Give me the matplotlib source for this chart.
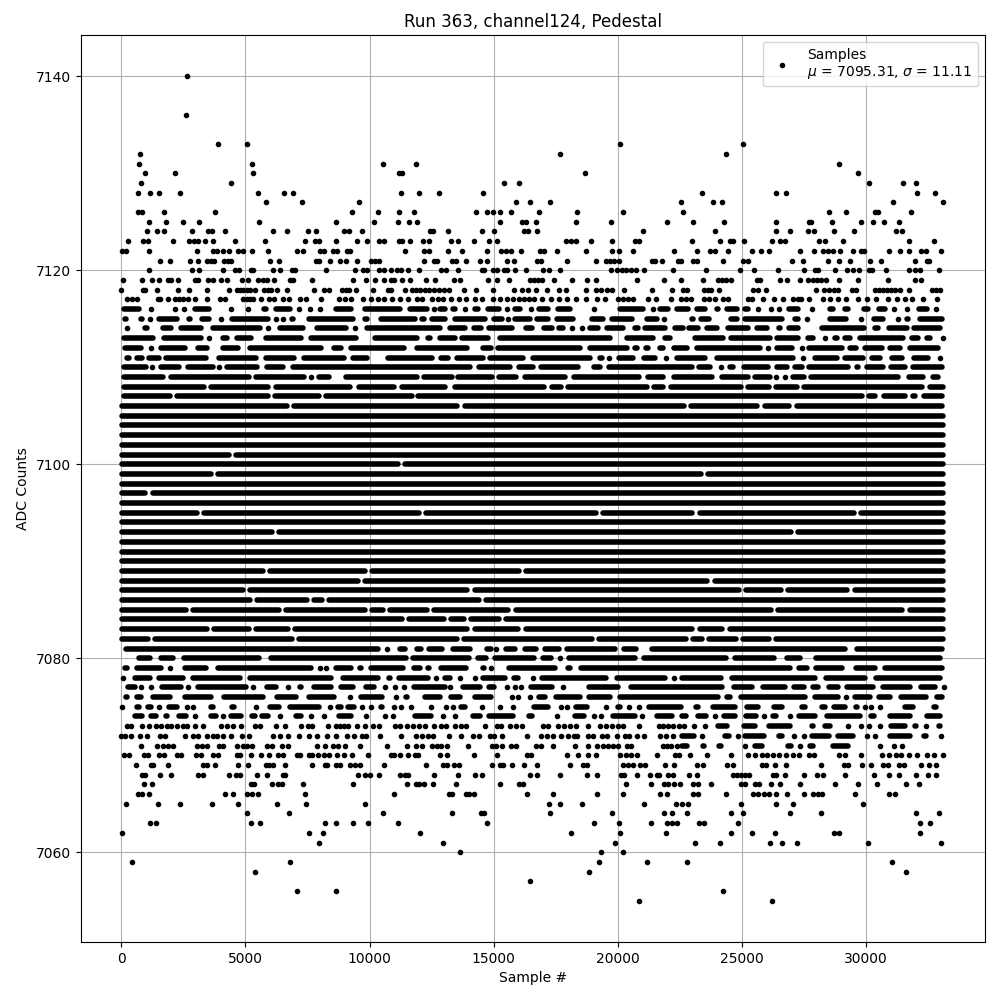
# -*- coding: utf-8 -*-
"""Run 363, channel 124 pedestal scatter, values read off the picture.

About 33k samples overlap too much to read one by one. The outer levels are
read as single samples. The middle levels are read as runs of touching dots,
each (first, last) being the visible edges of the run, and the full levels as
unbroken rows with the sample numbers of their visible gaps.
"""

import matplotlib
matplotlib.use("Agg")
import matplotlib.pyplot as plt

TITLE = "Run 363, channel124, Pedestal"
MU = 7095.31
SIGMA = 11.11
X_TICKS = [0, 5000, 10000, 15000, 20000, 25000, 30000]
Y_TICKS = [7060, 7080, 7100, 7120, 7140]

# single samples, upper tail
upper_levels = [7140, 7136, 7133, 7132, 7131, 7130, 7129, 7128, 7127, 7126, 7125, 7124,
                7123, 7122, 7121, 7120, 7119, 7118, 7117]
upper_samples = [
    [2659],
    [2619],
    [3908, 5077, 20108, 25041],
    [765, 17688, 24355],
    [725, 5278, 10552, 11882, 28911],
    [967, 2176, 5318, 11197, 11318, 18696, 29677],
    [806, 4432, 15430, 16035, 30121, 31492, 32016],
    [685, 1168, 1531, 2377, 5520, 6567, 6930, 11277, 12003, 12810, 14584, 23387, 26371,
     26774, 32056, 32782],
    [5842, 7292, 9589, 15914, 16479, 17285, 22554, 23831, 24194, 31089, 33105],
    [685, 846, 1732, 3787, 9307, 10354, 11197, 11802, 14301, 14745, 14987, 15269, 15713,
     16842, 18374, 20228, 22621, 28508, 29194, 30363, 30484, 31814],
    [1128, 1813, 2498, 3143, 5560, 8662, 10193, 11157, 11600, 11923, 15269, 16156, 16291,
     16721, 18333, 19745, 21973, 23025, 24275, 26371, 27702, 27782, 28629, 29798, 30282,
     30726, 31331],
    [1048, 1450, 1732, 2861, 3505, 3666, 4190, 6124, 6688, 7534, 7857, 8985, 9186, 9710,
     12447, 12568, 13173, 14543, 15027, 16237, 16371, 16761, 21035, 23912, 26371, 26936,
     27661, 27903, 28710, 29516, 31210, 31451],
    [282, 886, 1088, 2095, 2740, 2941, 3102, 3384, 3707, 4593, 5802, 7413, 7816, 7977, 8662,
     9508, 9911, 10395, 10579, 11197, 11318, 11640, 12165, 12406, 13293, 13576, 14221,
     14826, 15148, 17930, 18132, 18333, 18938, 19785, 20713, 20874, 22984, 24113, 24516,
     24637, 25081, 26210, 26532, 26734, 28105, 28347, 29073, 31734, 32741],
    [40, 201, 1128, 3062, 3707, 3868, 4109, 4351, 4714, 4915, 5278, 5923, 7091, 7333, 8018,
     8179, 8541, 8702, 9105, 9226, 11439, 12205, 12406, 13173, 13737, 14745, 15309, 15511,
     15713, 16102, 16882, 17043, 17567, 18737, 19785, 20067, 20632, 22285, 23186, 23710,
     23912, 24436, 25403, 25766, 26089, 27339, 27903, 28266, 28468, 28669, 28952, 29476,
     29798, 29919, 30927, 31371, 31734, 32218, 32419, 33024],
    [1571, 1974, 2780, 3102, 3465, 3625, 3747, 4150, 4311, 4432, 6003, 6366, 7857, 7977,
     8420, 8823, 9065, 9508, 10072, 10233, 10395, 12205, 12608, 12729, 13334, 13495, 13898,
     14463, 14745, 15551, 15834, 16761, 16922, 17970, 19140, 19543, 19704, 19866, 20067,
     21398, 21519, 21801, 22446, 22554, 23025, 23186, 24234, 25041, 25242, 27016, 27460,
     28468, 28911, 29355, 30161, 30605, 31975, 32459, 32540],
    [1128, 2861, 3143, 4110, 4593, 4754, 5238, 5318, 6124, 6406, 6889, 7010, 8260, 9428,
     9750, 9911, 10377, 10579, 10874, 11116, 11277, 11560, 11990, 12890, 13092, 13576,
     14543, 14624, 14987, 15148, 15430, 15551, 15874, 16317, 17003, 17245, 17688, 19745,
     19987, 20188, 20349, 20551, 20753, 21075, 22244, 23549, 24920, 25484, 26452, 27500,
     27944, 28065, 28750, 29234, 29476, 29718, 30121, 30242, 30806, 31734, 31975, 32177,
     32943],
    [80, 846, 1249, 1531, 1894, 2014, 2296, 2981, 3102, 3505, 3707, 4029, 4244, 4875, 5117,
     5520, 5721, 5882, 6164, 6809, 6930, 7695, 9347, 9871, 10233, 10592, 10874, 10995,
     11318, 11640, 12285, 12648, 13414, 13656, 14785, 15148, 15632, 16479, 16640, 16801,
     16962, 17446, 18172, 18777, 19140, 20793, 21882, 22554, 23428, 24033, 24214, 24355,
     24590, 25605, 25726, 26532, 26815, 27339, 27661, 27863, 28024, 28200, 28400, 28911,
     29677, 30887, 31975, 32218],
    [0, 886, 967, 1450, 2296, 2740, 3465, 4338, 4647, 4780, 4915, 5050, 5184, 5399, 5761,
     5923, 6044, 6285, 6688, 7776, 8179, 8380, 8904, 9065, 9186, 9468, 10153, 10753, 10874,
     11439, 11721, 11882, 12043, 12245, 12406, 12608, 12810, 13000, 13200, 13818, 14301,
     14987, 15834, 16156, 16400, 16694, 17164, 17648, 17930, 18737, 19140, 19342, 19583,
     19785, 20269, 21398, 22204, 22621, 22783, 23468, 23629, 23777, 24073, 25444, 25645,
     25968, 27984, 28306, 28507, 28709, 28900, 29435, 29597, 30363, 30524, 30685, 30846,
     31007, 31168, 31400, 31729, 32661, 32822, 32983],
    [241, 443, 645, 1491, 1571, 1894, 2176, 2337, 2498, 2700, 2968, 3465, 3989, 4190, 4915,
     5050, 5184, 5318, 5640, 5963, 6164, 6527, 6769, 7212, 7453, 8058, 8783, 9025, 9267,
     9750, 10072, 10354, 10579, 10915, 11237, 11560, 11923, 12124, 12527, 12769, 12950,
     13293, 13616, 13898, 14261, 14543, 14987, 15269, 15551, 15793, 16035, 16237, 16425,
     16640, 16962, 17325, 17648, 17970, 18333, 18737, 19180, 19503, 20028, 20230, 20430,
     20630, 21236, 21533, 22164, 22554, 22756, 22957, 23468, 23670, 23912, 24234, 24436,
     25242, 25403, 25847, 26290, 26653, 27057, 27256, 27406, 27702, 28266, 28548, 28871,
     29194, 29677, 30040, 30416, 30887, 31250, 31572, 31855, 32298, 32863],
]

# single samples, lower tail
lower_levels = [7073, 7072, 7071, 7070, 7069, 7068, 7067, 7066, 7065, 7064, 7063, 7062,
                7061, 7060, 7059, 7058, 7057, 7056, 7055]
lower_samples = [
    [242, 403, 847, 1129, 1411, 1613, 1855, 2000, 2258, 2500, 2634, 2984, 3306, 4032, 4274,
     4516, 4838, 5403, 5604, 6236, 6612, 7258, 7540, 7701, 8346, 8669, 8830, 8991, 9152,
     9515, 9798, 10121, 10377, 11036, 11237, 11519, 11761, 12000, 12245, 12608, 12890,
     13092, 13455, 13680, 13898, 14664, 15148, 15309, 15672, 15900, 16156, 17003, 17205,
     17607, 17849, 18100, 18333, 18817, 19301, 19543, 19780, 20027, 20228, 20874, 21680,
     21841, 22043, 22250, 22473],
    [0, 161, 403, 766, 1048, 1573, 1774, 2580, 2903, 3105, 3468, 3709, 3871, 4113, 4435,
     4879, 5161, 6129, 6411, 6733, 7177, 7580, 7903, 8306, 8669, 9112, 9394, 9677, 9878,
     10403, 11277, 11882, 12100, 12340, 12568, 13213, 13697, 14180, 14422, 14866, 15027,
     15350, 16358, 16922, 17164, 17400, 17700, 18000, 18239, 18374, 18817, 19000, 19382,
     19583, 19987, 20309, 20470, 20793, 21075, 21720, 21962, 22244],
    [806, 1452, 1693, 1895, 2097, 3064, 3266, 3468, 3951, 4113, 4677, 4919, 5080, 5282,
     5887, 6088, 6492, 6733, 7903, 8225, 8548, 8749, 9032, 9636, 10713, 11519, 11882, 12124,
     12527, 12729, 12890, 13132, 13979, 14947, 15100, 15350, 15713, 15914, 16721, 16922,
     17406, 18293, 18817, 19180, 19400, 19620, 19800, 20027, 20390, 20551, 21841, 22000,
     22150, 22406],
    [121, 323, 927, 1089, 1532, 1734, 2258, 2419, 3024, 3226, 3709, 3911, 4677, 4798, 5242,
     5645, 5967, 6330, 6532, 7096, 7217, 7580, 7701, 7943, 8185, 8387, 8709, 8991, 9274,
     9959, 10874, 10995, 11237, 11560, 11842, 11963, 12850, 13132, 14221, 15148, 16358,
     16519, 17970, 18414, 18817, 19140, 20107, 20349, 20551, 20793, 21599, 22325, 22487,
     22904, 23589, 24557, 25242, 25524, 25807, 26008, 26250, 26500, 26787, 27057, 27298,
     27702, 27903, 28911, 29153, 29798, 30645, 30927, 31210, 31411, 31734, 32056, 32459,
     32741, 33105],
    [605, 1210, 1290, 1895, 3306, 3468, 3790, 4717, 5121, 5847, 5967, 6129, 6612, 7701,
     8225, 8306, 8669, 8830, 9233, 9435, 9636, 10592, 12285, 12971, 13132, 13414, 13616,
     14947, 15269, 15390, 15753, 16237, 16761, 18091, 18616, 18777, 20228, 20430, 20632,
     20914, 21116, 21922, 22285, 23186, 23428, 24395, 24637, 25807, 25966, 26331, 26774,
     28186, 29113, 29274, 29839, 30202, 30685, 30887, 31331, 31532, 32218, 32540, 32823],
    [847, 968, 1573, 2016, 3105, 3306, 4355, 4637, 4798, 5484, 5887, 6532, 6612, 9556, 9798,
     10000, 10377, 11237, 11439, 11560, 12608, 13576, 14261, 14543, 16479, 16761, 17688,
     18777, 19180, 20148, 20269, 20793, 21317, 21599, 21680, 22043, 22244, 22863, 23186,
     24637, 24800, 24960, 25120, 25290, 26250, 26400, 26734, 27500, 28024, 28266, 29153,
     30322, 30927, 31331, 32016, 32500, 32836],
    [927, 1250, 5242, 5363, 6088, 6330, 6492, 7338, 9354, 11519, 11882, 12003, 12205, 12568,
     13495, 15269, 16035, 16196, 20349, 21357, 21882, 22043, 22285, 22514, 23025, 23226,
     23750, 24960, 25121, 25524, 25686, 26170, 26532, 27339, 28750, 29677, 30443, 31613,
     32137],
    [685, 847, 1129, 4193, 4516, 5080, 5282, 5524, 7419, 10995, 13213, 13334, 13898, 14019,
     14221, 16358, 17406, 19180, 20228, 21720, 22003, 23025, 23226, 24355, 25444, 25645,
     25887, 26089, 26371, 26815, 27500, 27863, 28065, 28226, 29556, 30927, 31169],
    [202, 1492, 2379, 3669, 4717, 6290, 7459, 9838, 17245, 17688, 18575, 21075, 22365, 22581,
     22823, 24960, 26371, 27057, 29879],
    [5080, 6774, 10552, 13334, 14503, 14624, 17285, 19785, 21882, 22204, 22783, 24557, 25041,
     26936, 28186, 32016, 32943],
    [1169, 1411, 5242, 5604, 8225, 8669, 9354, 9959, 11157, 14745, 19059, 20067, 21357,
     22003, 22204, 22406, 23267, 23468, 24839, 32177, 32580],
    [40, 7580, 8145, 12044, 18132, 20107, 21962, 24557, 25403, 26331, 28710, 28911, 32177],
    [7983, 12971, 19906, 23105, 24113, 26129, 26613, 27218, 30080, 33024],
    [13656, 19341, 20228],
    [443, 6814, 19261, 21196, 22783, 31048],
    [5403, 18857, 31613],
    [16479],
    [7096, 8669, 24234],
    [20874, 26210],
]

# runs of touching dots, (first, last) as seen; first == last is one dot
run_levels = [7116, 7115, 7114, 7113, 7112, 7111, 7110, 7109, 7108, 7107, 7106,
              7081, 7080, 7079, 7078, 7077, 7076, 7075, 7074, 7073, 7072, 7071]
run_edges = [
    [(0, 806), (1210, 1210), (2177, 2177), (2540, 2540), (2863, 3629), (4435, 4435),
     (5121, 5121), (5645, 5927), (6129, 6895), (7177, 7177), (7620, 7620), (8024, 8024),
     (8548, 9354), (9717, 11331), (11533, 12407), (12581, 12581), (12743, 13146),
     (13280, 13549), (13750, 13952), (14154, 14490), (14664, 15337), (15525, 15525),
     (15767, 16170), (16506, 16506), (16707, 17312), (17487, 18186), (19059, 19059),
     (20000, 21143), (21411, 21411), (21613, 22150), (22285, 22957), (23092, 23629),
     (23898, 24167), (24301, 24906), (25041, 25376), (25645, 25645), (26183, 26183),
     (26519, 26519), (26788, 27393), (27729, 27930), (28468, 28804), (29073, 29409),
     (29812, 30215), (30416, 30887), (31156, 31156), (31599, 31760), (32029, 32567),
     (32836, 32836)],
    [(40, 282), (685, 927), (1169, 1169), (1411, 2339), (2634, 2876), (3145, 3629),
     (3951, 4113), (4355, 6008), (6250, 6250), (6532, 6532), (6774, 7016), (7459, 9435),
     (9717, 9999), (10362, 11936), (12030, 12299), (12433, 13146), (13347, 14759),
     (14893, 15431), (15565, 15565), (15767, 16573), (16640, 17312), (17446, 18320),
     (18858, 19530), (19664, 20672), (21075, 21680), (21881, 21881), (22890, 23132),
     (23266, 23804), (24476, 24906), (25041, 26721), (27030, 27393), (27621, 27621),
     (28468, 29314), (29812, 29812), (30215, 30793), (31290, 31290), (31559, 31828),
     (32097, 33172)],
    [(242, 242), (847, 1129), (1572, 2097), (2298, 3306), (3588, 5685), (5927, 5927),
     (6290, 7419), (7782, 9152), (9435, 9435), (9798, 12944), (13146, 13952), (14087, 14584),
     (14718, 15834), (16197, 16640), (16909, 17446), (17541, 17917), (18051, 18253),
     (18455, 18656), (18790, 19328), (19462, 20336), (20605, 20941), (21008, 22016),
     (22218, 22729), (22783, 23360), (23495, 24100), (24328, 25376), (25511, 26116),
     (26411, 26653), (26815, 27393), (28132, 30040), (30282, 30591), (30847, 31760),
     (31828, 33105)],
    [(0, 1371), (1613, 3306), (3548, 3548), (3992, 4355), (4556, 5322), (5725, 7338),
     (7540, 9556), (10120, 12003), (12272, 12541), (12743, 13549), (13616, 14893),
     (15162, 19798), (20269, 21546), (21815, 22218), (23025, 24369), (24476, 26250),
     (26318, 27393), (27567, 27997), (28266, 28468), (28643, 28938), (29073, 29476),
     (29677, 31626), (31760, 32231), (32365, 32701), (33105, 33105)],
    [(40, 887), (1210, 1210), (1492, 2661), (2984, 3548), (3992, 4785), (5080, 8145),
     (8467, 8951), (9152, 11493), (11802, 14019), (14127, 14355), (14450, 15000),
     (15068, 18589), (18764, 20470), (20578, 20874), (21035, 21344), (21586, 21950),
     (22150, 22890), (23092, 25847), (25955, 26143), (26318, 27124), (27433, 27433),
     (27594, 29140), (29274, 29718), (29879, 30753), (30887, 31492), (31693, 33037)],
    [(108, 430), (524, 954), (1021, 1626), (1693, 3508), (3844, 5524), (5725, 7070),
     (7270, 9085), (9220, 10000), (10630, 12608), (12783, 13280), (13414, 14691),
     (14759, 16304), (16465, 18992), (19193, 19462), (19637, 19637), (19933, 20739),
     (20941, 21613), (21950, 21950), (22285, 23629), (23898, 27191), (27487, 27487),
     (27836, 28938), (29073, 30013), (30148, 30685), (30954, 31559), (31828, 32634),
     (32997, 32997)],
    [(0, 1102), (1223, 1223), (1492, 2433), (2580, 3777), (3951, 3951), (4140, 5564),
     (5779, 6612), (6827, 14154), (14315, 15767), (15901, 16680), (16815, 18522),
     (18925, 19395), (19557, 23092), (23186, 23831), (24167, 24167), (24436, 24772),
     (24973, 26183), (26318, 26922), (27057, 27527), (27594, 29409), (29543, 29812),
     (29946, 30820), (30927, 31693), (31787, 33172)],
    [(0, 1800), (1895, 5255), (5322, 7473), (7634, 7634), (7876, 8480), (8951, 12003),
     (12111, 13414), (13481, 15027), (15121, 16008), (16143, 17984), (18118, 20981),
     (21116, 21950), (22150, 23898), (24100, 25376), (25444, 26250), (26385, 26385),
     (26761, 26761), (26949, 27621), (27702, 31425), (31626, 32433), (32594, 33037)],
    [(0, 3414), (3508, 6021), (6129, 9327), (9462, 11075), (11197, 13146), (13347, 17151),
     (17245, 17809), (17877, 21277), (21371, 21950), (22056, 25067), (25135, 26223),
     (26291, 27326), (27393, 32365), (32500, 33220)],
    [(0, 2070), (2150, 5994), (6102, 8051), (8145, 11802), (11869, 29946), (30013, 30484),
     (30618, 31693), (31787, 32097), (32231, 33172)],
    [(-90, 6774), (6868, 13643), (13724, 22783), (22863, 25739), (25847, 27016), (27124, 33172)],
    [(80, 10430), (10713, 10713), (11116, 11519), (11802, 12165), (12285, 13011),
     (13253, 14140), (14624, 14987), (15108, 15108), (15390, 15954), (16156, 16828),
     (16962, 17729), (17849, 19987), (20148, 20860), (21290, 29274), (29556, 33185)],
    [(161, 376), (605, 1250), (1492, 2164), (2419, 5645), (5927, 11560), (11640, 14100),
     (14261, 14785), (14947, 16721), (16882, 17406), (17688, 17688), (17930, 20793),
     (20954, 24476), (24637, 26411), (26734, 27460), (27903, 33105)],
    [(40, 323), (524, 1693), (1976, 1976), (2460, 3508), (3790, 7741), (7943, 8104),
     (8266, 8266), (8548, 9354), (9516, 9757), (9959, 11439), (11681, 12124), (12245, 12487),
     (12769, 13979), (14463, 14705), (14906, 14906), (15511, 17567), (17890, 18172),
     (18401, 27057), (27218, 27729), (27903, 29153), (29516, 30484), (30685, 33185)],
    [(80, 80), (443, 1250), (1411, 2580), (2782, 4879), (5080, 8548), (8830, 10430),
     (10673, 10915), (11076, 12460), (12689, 12689), (12931, 13334), (13576, 13737),
     (14261, 14261), (14463, 15551), (15713, 16076), (16600, 16600), (16842, 19650),
     (19866, 22003), (22271, 22271), (22487, 24275), (24516, 28065), (28306, 30080),
     (30322, 33105)],
    [(161, 645), (806, 806), (1089, 1290), (1532, 2500), (2701, 2701), (2984, 5121),
     (5322, 5322), (5766, 6330), (6733, 6733), (7096, 7338), (7661, 8548), (8749, 9435),
     (9757, 10295), (10632, 10632), (11036, 11036), (11318, 11452), (11681, 13132),
     (13253, 13253), (13656, 14543), (14705, 15108), (15430, 15619), (15874, 15874),
     (16116, 16116), (16398, 17446), (17809, 17809), (18737, 20121), (20430, 24315),
     (24597, 25524), (25766, 26855), (27016, 27621), (27782, 28186), (28427, 28992),
     (29153, 30416), (30605, 31895), (32137, 32903), (33145, 33145)],
    [(80, 323), (524, 887), (1169, 2056), (2460, 3709), (4032, 5793), (6169, 7137),
     (7473, 8682), (9153, 9287), (9556, 10592), (11076, 11076), (11358, 11600),
     (12124, 12931), (13173, 13737), (14140, 14987), (15753, 15753), (15995, 15995),
     (16479, 16479), (16721, 17164), (17406, 18575), (18737, 19785), (19987, 24167),
     (24315, 24637), (24879, 27661), (27863, 28992), (29194, 29194), (29476, 30282),
     (30443, 31089), (31331, 32540), (32782, 33185)],
    [(40, 40), (524, 820), (968, 1290), (1532, 1532), (1814, 2365), (2661, 2661),
     (2903, 2903), (3508, 3790), (4355, 4650), (4838, 5053), (5322, 5524), (5887, 6451),
     (6693, 8077), (8427, 8427), (8628, 8951), (9032, 9488), (9623, 9798), (10080, 10080),
     (10362, 10592), (10915, 11049), (11277, 11277), (11681, 11681), (12393, 12527),
     (13092, 13092), (13374, 13374), (13576, 13939), (14543, 14543), (15269, 15269),
     (15793, 15793), (16519, 17285), (17729, 17729), (17970, 17970), (18212, 18871),
     (19543, 19543), (19906, 20188), (20470, 20470), (20874, 20874), (21156, 22662),
     (23065, 23347), (23750, 24839), (25121, 25766), (26210, 26734), (27339, 27661),
     (28145, 28468), (28629, 29274), (29516, 29758), (29960, 29960), (30202, 30202),
     (30565, 30565), (31491, 32016), (32661, 32943)],
    [(443, 927), (1089, 1492), (1693, 1935), (2231, 2701), (2903, 3064), (3508, 3911),
     (4113, 4113), (4314, 4919), (5161, 5484), (5564, 6021), (6411, 6411), (6935, 7338),
     (7661, 7661), (8185, 8185), (8669, 9354), (9757, 9959), (10511, 10713), (10955, 10955),
     (11721, 12595), (12890, 13051), (13455, 13455), (14060, 14543), (14705, 15887),
     (16317, 16640), (17567, 17567), (18172, 18737), (19059, 19059), (19341, 19341),
     (19704, 20793), (20995, 20995), (21478, 22312), (22487, 22863), (23146, 23670),
     (23912, 23912), (24194, 24839), (25081, 25686), (25887, 25887), (26170, 26492),
     (26936, 26936), (27218, 28065), (28347, 29879), (30121, 30443), (30887, 31895),
     (32379, 33105)],
    [(22581, 22783), (23065, 23065), (23508, 23508), (23952, 24503), (25000, 25645),
     (26008, 27057), (27742, 27984), (28266, 28669), (29274, 29274), (29798, 29798),
     (30121, 30121), (30484, 30685), (30927, 31693), (31895, 32137), (32419, 32419),
     (32863, 33105)],
    [(22487, 23186), (23347, 23468), (24234, 24597), (24839, 24839), (25041, 26008),
     (26411, 26734), (27097, 27097), (27500, 27500), (27742, 28629), (28790, 29597),
     (30040, 30040), (30363, 30363), (30887, 31895), (32258, 32540), (32943, 33145)],
    [(22487, 22890), (23347, 23589), (23992, 24275), (25041, 25242), (25444, 25927),
     (26774, 27097), (27339, 27339), (27661, 27984), (28589, 29395), (30565, 30565),
     (31129, 31129), (31451, 31451)],
]

# full rows, with the samples where a thin white gap shows
full_levels = [7105, 7104, 7103, 7102, 7101, 7100, 7099, 7098, 7097, 7096, 7095, 7094, 7093,
               7092, 7091, 7090, 7089, 7088, 7087, 7086, 7085, 7084, 7083, 7082]
full_gaps = [
    [], [], [], [],
    [4475],
    [11300],
    [3750, 23495],
    [],
    [1115],
    [],
    [3185, 12137, 19261, 23159, 29677],
    [],
    [6196, 27124],
    [], [], [],
    [5860, 9960, 16170],
    [9690, 23764],
    [5053, 14087, 25041, 26720, 29409],
    [5322, 7634, 8212, 14557],
    [2742, 6505, 9959, 10671, 12474, 15740, 26318, 31626],
    [11439, 13146, 13952, 15363],
    [3575, 5295, 6868, 14087, 16143, 23159, 24369],
    [1223, 7002, 13683, 19100, 22890, 23535, 24906, 26250],
]

ROW_START = -90
ROW_END = 33220
DOT_RADIUS = 105  # half a dot in samples, run edges are the outside of the dots
GAP_HALF = 40


def main():
    fig, ax = plt.subplots(figsize=(10, 10), dpi=100)

    dot_x, dot_y = [], []
    for level, samples in zip(upper_levels + lower_levels, upper_samples + lower_samples):
        dot_x.extend(samples)
        dot_y.extend([level] * len(samples))

    seg_y, seg_a, seg_b = [], [], []
    for level, runs in zip(run_levels, run_edges):
        for first, last in runs:
            if last - first <= 2 * DOT_RADIUS:
                dot_x.append((first + last) / 2)
                dot_y.append(level)
            else:
                seg_y.append(level)
                seg_a.append(first + DOT_RADIUS)
                seg_b.append(last - DOT_RADIUS)

    for level, gaps in zip(full_levels, full_gaps):
        edges = [ROW_START] + [e for g in gaps for e in (g - GAP_HALF, g + GAP_HALF)] + [ROW_END]
        for first, last in zip(edges[::2], edges[1::2]):
            seg_y.append(level)
            seg_a.append(first + DOT_RADIUS)
            seg_b.append(last - DOT_RADIUS)

    ax.hlines(seg_y, seg_a, seg_b, colors="black", linewidth=4, capstyle="round", zorder=2)
    ax.plot(dot_x, dot_y, "k.", zorder=2,
            label=f"Samples\n$\\mu$ = {MU:.2f}, $\\sigma$ = {SIGMA:.2f}")

    ax.set_xlim(-1650, 34810)
    ax.set_ylim(7050.75, 7144.25)
    ax.set_xticks(X_TICKS)
    ax.set_yticks(Y_TICKS)
    ax.set_title(TITLE)
    ax.set_xlabel("Sample #")
    ax.set_ylabel("ADC Counts")
    ax.grid(True)
    ax.legend(loc="upper right")
    fig.subplots_adjust(left=0.0805, right=0.985, top=0.965, bottom=0.058)
    fig.savefig("out.png", dpi=100)
    plt.close(fig)


if __name__ == "__main__":
    main()
